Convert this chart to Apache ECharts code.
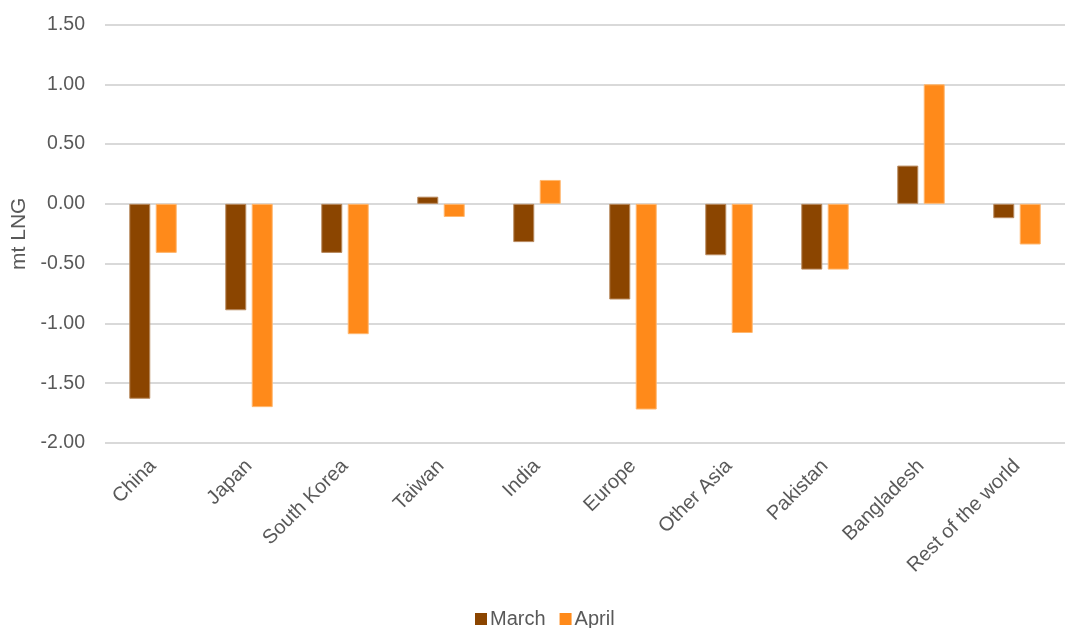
<!DOCTYPE html>
<html><head><meta charset="utf-8">
<script src="https://cdn.jsdelivr.net/npm/echarts@6/dist/echarts.min.js"></script>
<style>html,body{margin:0;padding:0;background:#fff}#c{width:1070px;height:628px}</style>
</head><body><div id="c"></div>
<script>
const categories = ["China","Japan","South Korea","Taiwan","India","Europe","Other Asia","Pakistan","Bangladesh","Rest of the world"];
const march = [-1.63,-0.89,-0.41,0.06,-0.32,-0.80,-0.43,-0.55,0.32,-0.12];
const april = [-0.41,-1.70,-1.09,-0.11,0.20,-1.72,-1.08,-0.55,1.00,-0.34];
const seriesNames = ["March","April"];
const chart = echarts.init(document.getElementById('c'));
const font = 'Liberation Sans, Arial, sans-serif';
chart.setOption({
  animation:false,
  textStyle:{fontFamily:font},
  grid:{left:105,right:5,top:24.5,bottom:185},
  legend:{bottom:-6,left:470,itemWidth:12,itemHeight:12,itemGap:14,icon:'rect',
    itemStyle:{borderWidth:0},
    textStyle:{fontSize:20,color:'#595959',fontFamily:font,padding:[0,0,0,-2]},data:seriesNames},
  xAxis:{type:'category',data:categories,
    axisLine:{show:false,onZero:false},axisTick:{show:false},
    axisLabel:{rotate:45,fontSize:20,color:'#595959',margin:20,interval:0,fontFamily:font}},
  yAxis:{type:'value',min:-2,max:1.5,interval:0.5,name:'mt LNG',nameLocation:'middle',nameGap:72,
    nameTextStyle:{fontSize:21,color:'#595959',fontFamily:font},
    axisLabel:{fontSize:19.5,color:'#595959',margin:20,formatter:v=>v.toFixed(2),fontFamily:font},
    splitLine:{lineStyle:{color:'#d9d9d9',width:2}},axisLine:{show:false},axisTick:{show:false}},
  series:[
    {name:seriesNames[0],type:'bar',data:march,barWidth:21,barGap:'26%',
     itemStyle:{color:'#8B4500',borderColor:'#b98a5f',borderWidth:1}},
    {name:seriesNames[1],type:'bar',data:april,barWidth:21,
     itemStyle:{color:'#FF8A1A',borderColor:'#ffb870',borderWidth:1}}
  ]
});
</script></body></html>
